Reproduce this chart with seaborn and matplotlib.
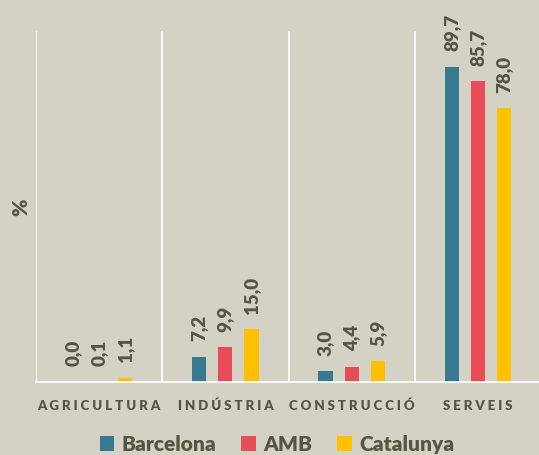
import matplotlib
matplotlib.use("Agg")
import matplotlib.pyplot as plt
import matplotlib.patches as mpatches
import seaborn as sns
import pandas as pd

categories = ["AGRICULTURA", "INDÚSTRIA", "CONSTRUCCIÓ", "SERVEIS"]
series = ["Barcelona", "AMB", "Catalunya"]
barcelona = [0.0, 7.2, 3.0, 89.7]
amb = [0.1, 9.9, 4.4, 85.7]
catalunya = [1.1, 15.0, 5.9, 78.0]
colors = ["#367A8F", "#E84D57", "#FFC000"]

bg = "#D4D1C5"
txt = "#595442"

rows = []
for s, vals in zip(series, [barcelona, amb, catalunya]):
    for c, v in zip(categories, vals):
        rows.append({"sector": c, "area": s, "value": v})
df = pd.DataFrame(rows)

sns.set_theme(style="white")
plt.rcParams["font.family"] = ["Lato", "DejaVu Sans"]

fig = plt.figure(figsize=(5.39, 4.56), dpi=100, facecolor=bg)
ax = fig.add_axes([36/539, 73/456, 505/539, 351/456])
ax.set_facecolor(bg)

sns.barplot(data=df, x="sector", y="value", hue="area", order=categories,
            hue_order=series, palette=colors, width=0.62, gap=0.46,
            ax=ax, legend=False, saturation=1, linewidth=0, edgecolor="none")

for cont in ax.containers:
    labels = [f"{b.get_height():.1f}".replace(".", ",") for b in cont]
    ax.bar_label(cont, labels=labels, rotation=90, padding=12,
                 fontsize=13.5, fontweight="heavy", color=txt)

ax.set_xlim(-0.5, 3.5)
ax.set_ylim(0, 100)
ax.set_yticks([])
ax.set_xticks(range(len(categories)))
ax.set_xticklabels([" ".join(c) for c in categories], fontsize=9.5,
                   fontweight="heavy", color=txt)
ax.tick_params(axis="x", length=0, pad=12)
ax.set_xticks([-0.5, 0.5, 1.5, 2.5, 3.5], minor=True)
ax.tick_params(axis="x", which="minor", length=0)
ax.grid(which="minor", axis="x", color="white", linewidth=1.2)
ax.grid(which="major", visible=False)
ax.set_axisbelow(True)
for side in ["top", "right", "left"]:
    ax.spines[side].set_visible(False)
ax.spines["bottom"].set_color("white")
ax.spines["bottom"].set_linewidth(1.2)
ax.set_xlabel("")
ax.set_ylabel("%", fontsize=15, fontweight="heavy", color=txt, labelpad=4)

handles = [mpatches.Patch(color=c, label=s, linewidth=0) for c, s in zip(colors, series)]
leg = fig.legend(handles=handles, loc="center", bbox_to_anchor=(277/539, 1 - 445/456),
                 ncol=3, frameon=False, fontsize=15, handlelength=0.7,
                 handleheight=0.7, handletextpad=0.35, columnspacing=1.2)
for t in leg.get_texts():
    t.set_color(txt)
    t.set_fontweight("heavy")

fig.savefig("out.png", dpi=100, facecolor=bg)
